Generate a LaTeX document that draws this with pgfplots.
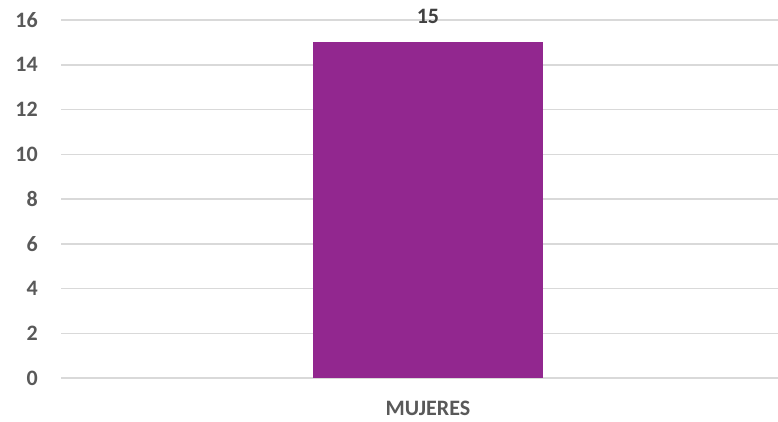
\documentclass[border=0pt]{standalone}
\usepackage{pgfplots}
\pgfplotsset{compat=1.18}
\usepackage{fontspec}
\setmainfont{Carlito}
\definecolor{barc}{RGB}{146,39,143}
\definecolor{gridc}{RGB}{217,217,217}
\definecolor{tickc}{RGB}{89,89,89}
\definecolor{labc}{RGB}{64,64,64}
\begin{document}
\begin{tikzpicture}
\useasboundingbox (0,0) rectangle (778pt,421pt);
\begin{axis}[
  at={(61pt,43pt)}, anchor=south west,
  width=717pt, height=358pt, scale only axis,
  xmin=-0.5, xmax=0.477, ymin=0, ymax=16,
  ytick={0,2,...,16},
  xtick={0}, xticklabels={MUJERES},
  axis line style={draw=none},
  major tick length=0pt,
  ymajorgrids, grid style={gridc, line width=1.5pt},
  tick label style={font=\fontsize{22}{24}\selectfont\bfseries, text=tickc, inner sep=0pt},
  yticklabel style={anchor=east, xshift=-23pt},
  xticklabel style={anchor=north, yshift=-23pt},
  /pgf/number format/assume math mode=true,
  clip=false,
  nodes near coords,
  every node near coord/.append style={font=\fontsize{22}{24}\selectfont\bfseries, text=labc, inner sep=0pt, anchor=south, yshift=19pt},
]
\addplot[ybar, bar width=0.313, fill=barc, draw=none] coordinates {(0,15)};
\end{axis}
\end{tikzpicture}
\end{document}
